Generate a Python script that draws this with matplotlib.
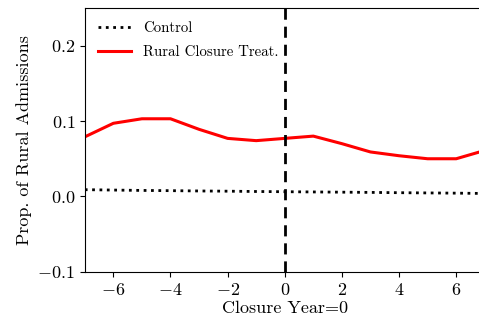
import matplotlib
matplotlib.use("Agg")
from matplotlib import pyplot as plt
import numpy as np

# Données
years = np.arange(-7, 8)
rural_treat = [0.079, 0.097, 0.103, 0.103, 0.089, 0.077, 0.074, 0.077,
               0.080, 0.070, 0.059, 0.054, 0.050, 0.050, 0.061]
control = [0.009, 0.0085, 0.008, 0.0077, 0.0073, 0.007, 0.0066, 0.0063,
           0.006, 0.0057, 0.0054, 0.005, 0.0047, 0.0044, 0.004]

plt.rcParams['font.family'] = 'serif'
plt.rcParams['font.serif'] = ['cmr10', 'DejaVu Serif']
plt.rcParams['mathtext.fontset'] = 'cm'
plt.rcParams['axes.formatter.use_mathtext'] = True

fig = plt.figure(figsize=(4.79, 3.28), dpi=100)
ax = fig.add_axes([0.177, 0.171, 0.835, 0.805])

ax.plot(years, control, color='black', linestyle=':', linewidth=2, label='Control')
ax.plot(years, rural_treat, color='red', linewidth=2.2, label='Rural Closure Treat.')
ax.axvline(0, color='black', linestyle='--', linewidth=2, dashes=(4, 2.5))

ax.set_xlim(-7, 7)
ax.set_ylim(-0.1, 0.25)
ax.set_xticks([-6, -4, -2, 0, 2, 4, 6])
ax.set_yticks([-0.1, 0.0, 0.1, 0.2])
ax.tick_params(labelsize=13)
ax.set_xlabel('Closure Year=0', fontsize=13, labelpad=2)
ax.set_ylabel('Prop. of Rural Admissions', fontsize=13)
ax.legend(loc='upper left', frameon=False, fontsize=10.7, handlelength=2.2,
          labelspacing=0.7)

plt.savefig('out.png', dpi=100)
